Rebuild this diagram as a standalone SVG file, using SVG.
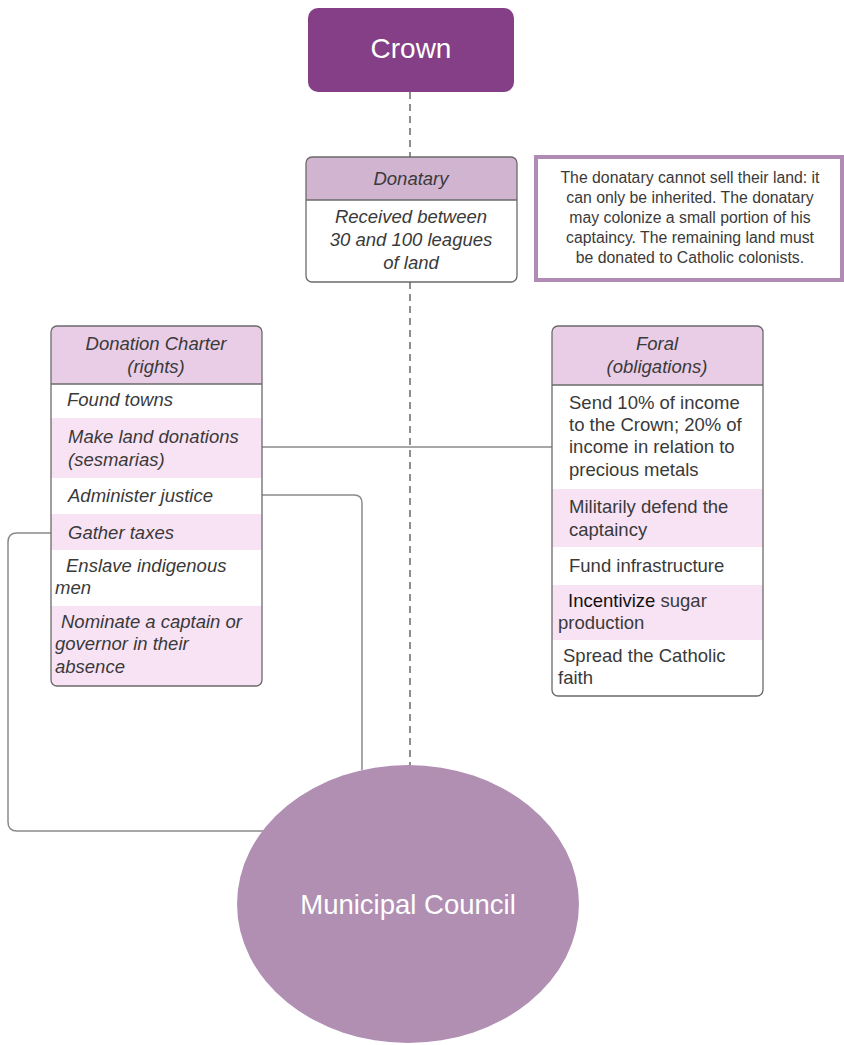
<svg xmlns="http://www.w3.org/2000/svg" width="844" height="1045" viewBox="0 0 844 1045">
<style>
text{font-family:"Liberation Sans",Arial,sans-serif;fill:#3a3a3a}
.it{font-style:italic;font-size:18.5px}
.rg{font-size:18.5px}
.c{text-anchor:middle}
.wt{fill:#ffffff}
.box{fill:none;stroke:#6a6a6a;stroke-width:1.3}
.conn{fill:none;stroke:#8a8a8a;stroke-width:1.5}
.dash{fill:none;stroke:#6a6a6a;stroke-width:1.5;stroke-dasharray:7 5}
.note{font-size:15.8px}
</style>
<g id="connectors">
<line class="dash" x1="410" y1="92" x2="410" y2="157"/>
<line class="dash" x1="410" y1="282" x2="410" y2="766"/>
<line class="conn" x1="262" y1="447" x2="552" y2="447"/>
<path class="conn" d="M262 495 H354 Q362 495 362 503 V770"/>
<path class="conn" d="M51 533 H17 Q8 533 8 542 V822 Q8 831 17 831 H264"/>
</g>
<g id="crown">
<rect x="308" y="8" width="206" height="84" rx="10" fill="#843f86"/>
<text x="411" y="58" class="c wt" font-size="28">Crown</text>
</g>
<g id="donatary">
<path d="M306 200 V163 Q306 157 312 157 H511 Q517 157 517 163 V200 Z" fill="#d1b4d0"/>
<rect x="306" y="157" width="211" height="125" rx="6" class="box"/>
<line x1="306" y1="200" x2="517" y2="200" stroke="#6a6a6a" stroke-width="1.3"/>
<text x="411" y="185" class="c it">Donatary</text>
<text x="411" y="223" class="c it">Received between</text>
<text x="411" y="246" class="c it">30 and 100 leagues</text>
<text x="411" y="269" class="c it">of land</text>
</g>
<g id="note">
<rect x="536" y="157" width="306" height="123" fill="#ffffff" stroke="#b08cb5" stroke-width="4"/>
<text x="690" y="183" class="c note">The donatary cannot sell their land: it</text>
<text x="690" y="203" class="c note">can only be inherited. The donatary</text>
<text x="690" y="223" class="c note">may colonize a small portion of his</text>
<text x="690" y="243" class="c note">captaincy. The remaining land must</text>
<text x="690" y="263" class="c note">be donated to Catholic colonists.</text>
</g>
<g id="donation-charter">
<path d="M51 384 V332 Q51 326 57 326 H256 Q262 326 262 332 V384 Z" fill="#e9cde6"/>
<rect x="51" y="418" width="211" height="60" fill="#f8e3f5"/>
<rect x="51" y="514" width="211" height="36" fill="#f8e3f5"/>
<path d="M51 606 H262 V680 Q262 686 256 686 H57 Q51 686 51 680 Z" fill="#f8e3f5"/>
<rect x="51" y="326" width="211" height="360" rx="6" class="box"/>
<line x1="51" y1="384" x2="262" y2="384" stroke="#6a6a6a" stroke-width="1.3"/>
<text x="156" y="350" class="c it">Donation Charter</text>
<text x="156" y="373" class="c it">(rights)</text>
<text x="67" y="406" class="it">Found towns</text>
<text x="68" y="443" class="it">Make land donations</text>
<text x="68" y="466" class="it">(sesmarias)</text>
<text x="68" y="502" class="it">Administer justice</text>
<text x="68" y="539" class="it">Gather taxes</text>
<text x="66" y="572" class="it">Enslave indigenous</text>
<text x="55" y="594" class="it">men</text>
<text x="61" y="628" class="it">Nominate a captain or</text>
<text x="55" y="650" class="it">governor in their</text>
<text x="55" y="673" class="it">absence</text>
</g>
<g id="foral">
<path d="M552 385 V332 Q552 326 558 326 H757 Q763 326 763 332 V385 Z" fill="#e9cde6"/>
<rect x="552" y="489" width="211" height="58" fill="#f8e3f5"/>
<rect x="552" y="585" width="211" height="55" fill="#f8e3f5"/>
<rect x="552" y="326" width="211" height="370" rx="6" class="box"/>
<line x1="552" y1="385" x2="763" y2="385" stroke="#6a6a6a" stroke-width="1.3"/>
<text x="657" y="350" class="c it">Foral</text>
<text x="657" y="373" class="c it">(obligations)</text>
<text x="569" y="409" class="rg">Send 10% of income</text>
<text x="569" y="431" class="rg">to the Crown; 20% of</text>
<text x="569" y="453" class="rg">income in relation to</text>
<text x="569" y="476" class="rg">precious metals</text>
<text x="569" y="513" class="rg">Militarily defend the</text>
<text x="569" y="536" class="rg">captaincy</text>
<text x="569" y="572" class="rg">Fund infrastructure</text>
<text x="568" y="607" class="rg"><tspan fill="#111">Incentivize</tspan> sugar</text>
<text x="558" y="629" class="rg">production</text>
<text x="563" y="662" class="rg">Spread the Catholic</text>
<text x="558" y="684" class="rg">faith</text>
</g>
<g id="municipal-council">
<ellipse cx="408" cy="904" rx="171" ry="139" fill="#b08fb3"/>
<text x="408" y="914" class="c wt" font-size="27.5">Municipal Council</text>
</g>
</svg>
